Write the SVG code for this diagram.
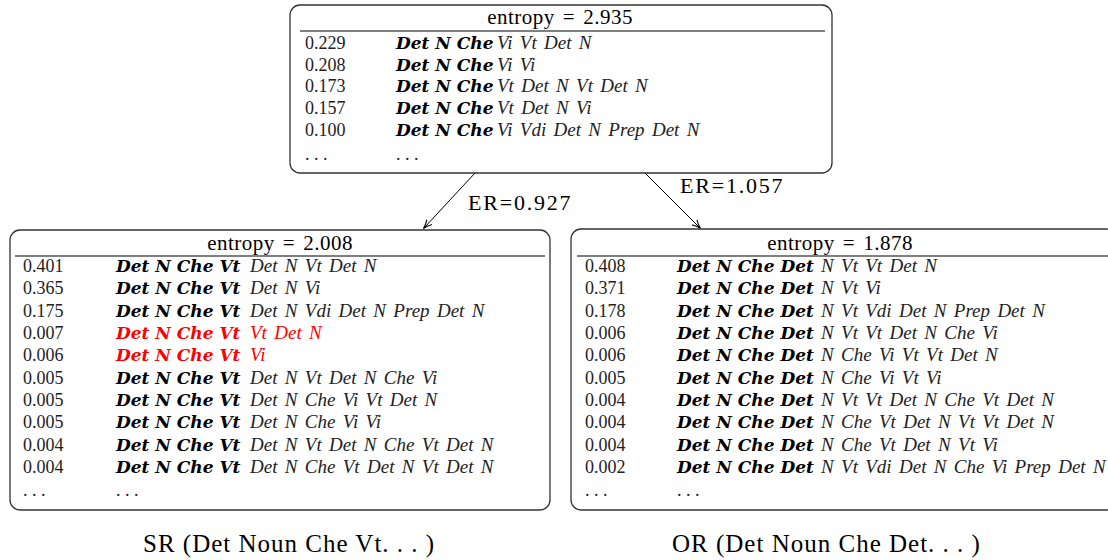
<svg xmlns="http://www.w3.org/2000/svg" width="1108" height="560" viewBox="0 0 1108 560">
  <style>
    text { font-family: "Liberation Serif", "Times New Roman", serif; fill: #000; }
    .box { fill: #fff; stroke: #333; stroke-width: 1.3; }
    .rule { stroke: #555; stroke-width: 1.5; }
    .hdr { font-size: 21px; text-anchor: middle; letter-spacing: 0.5px; }
    .num { font-size: 18px; fill: #222; }
    .b { font-family: "DejaVu Serif", "Liberation Serif", serif; font-weight: bold; font-style: italic; font-size: 17px; }
    .i { font-style: italic; font-size: 19px; word-spacing: 2.6px; fill: #222; }
    .red, .red tspan { fill: #ff0000; }
    .edge { stroke: #000; stroke-width: 1; fill: none; }
    .lbl { font-size: 22px; letter-spacing: 1.8px; }
    .cap { font-size: 25px; letter-spacing: 1px; }
  </style>
  <defs>
    <marker id="arrow" viewBox="0 0 10 10" refX="9" refY="5" markerWidth="9" markerHeight="9" markerUnits="userSpaceOnUse" orient="auto">
      <path d="M0,1 Q5,4 10,5 Q5,6 0,9" fill="none" stroke="#000" stroke-width="1.2"/>
    </marker>
  </defs>

  <!-- connectors -->
  <g id="connectors">
    <line class="edge" x1="475" y1="173" x2="424" y2="228" marker-end="url(#arrow)"/>
    <line class="edge" x1="645" y1="173" x2="700" y2="228" marker-end="url(#arrow)"/>
    <text class="lbl" x="468" y="210">ER=0.927</text>
    <text class="lbl" x="680" y="193">ER=1.057</text>
  </g>

  <!-- root distribution -->
  <g id="root">
    <rect class="box" x="290" y="5" width="542" height="168" rx="10"/>
    <text class="hdr" x="560" y="24">entropy<tspan dx="8">=</tspan><tspan dx="8">2.935</tspan></text>
    <line class="rule" x1="300" y1="31" x2="825" y2="31"/>
    <text y="49"><tspan class="num" x="305">0.229</tspan><tspan class="b" x="396">Det N Che</tspan><tspan class="i" x="497">Vi Vt Det N</tspan></text>
    <text y="71"><tspan class="num" x="305">0.208</tspan><tspan class="b" x="396">Det N Che</tspan><tspan class="i" x="497">Vi Vi</tspan></text>
    <text y="92"><tspan class="num" x="305">0.173</tspan><tspan class="b" x="396">Det N Che</tspan><tspan class="i" x="497">Vt Det N Vt Det N</tspan></text>
    <text y="114"><tspan class="num" x="305">0.157</tspan><tspan class="b" x="396">Det N Che</tspan><tspan class="i" x="497">Vt Det N Vi</tspan></text>
    <text y="136"><tspan class="num" x="305">0.100</tspan><tspan class="b" x="396">Det N Che</tspan><tspan class="i" x="497">Vi Vdi Det N Prep Det N</tspan></text>
    <text y="160"><tspan class="num" x="305">. . .</tspan><tspan class="num" x="396">. . .</tspan></text>
  </g>

  <!-- subject relative branch -->
  <g id="sr">
    <rect class="box" x="10" y="230" width="540" height="280" rx="10"/>
    <text class="hdr" x="280" y="250">entropy<tspan dx="8">=</tspan><tspan dx="8">2.008</tspan></text>
    <line class="rule" x1="15" y1="256" x2="545" y2="256"/>
    <text y="272"><tspan class="num" x="23">0.401</tspan><tspan class="b" x="116">Det N Che Vt</tspan><tspan class="i" x="250">Det N Vt Det N</tspan></text>
    <text y="294"><tspan class="num" x="23">0.365</tspan><tspan class="b" x="116">Det N Che Vt</tspan><tspan class="i" x="250">Det N Vi</tspan></text>
    <text y="317"><tspan class="num" x="23">0.175</tspan><tspan class="b" x="116">Det N Che Vt</tspan><tspan class="i" x="250">Det N Vdi Det N Prep Det N</tspan></text>
    <text y="339"><tspan class="num" x="23">0.007</tspan><tspan class="b red" x="116">Det N Che Vt</tspan><tspan class="i red" x="250">Vt Det N</tspan></text>
    <text y="361"><tspan class="num" x="23">0.006</tspan><tspan class="b red" x="116">Det N Che Vt</tspan><tspan class="i red" x="250">Vi</tspan></text>
    <text y="384"><tspan class="num" x="23">0.005</tspan><tspan class="b" x="116">Det N Che Vt</tspan><tspan class="i" x="250">Det N Vt Det N Che Vi</tspan></text>
    <text y="406"><tspan class="num" x="23">0.005</tspan><tspan class="b" x="116">Det N Che Vt</tspan><tspan class="i" x="250">Det N Che Vi Vt Det N</tspan></text>
    <text y="428"><tspan class="num" x="23">0.005</tspan><tspan class="b" x="116">Det N Che Vt</tspan><tspan class="i" x="250">Det N Che Vi Vi</tspan></text>
    <text y="451"><tspan class="num" x="23">0.004</tspan><tspan class="b" x="116">Det N Che Vt</tspan><tspan class="i" x="250">Det N Vt Det N Che Vt Det N</tspan></text>
    <text y="473"><tspan class="num" x="23">0.004</tspan><tspan class="b" x="116">Det N Che Vt</tspan><tspan class="i" x="250">Det N Che Vt Det N Vt Det N</tspan></text>
    <text y="496"><tspan class="num" x="23">. . .</tspan><tspan class="num" x="116">. . .</tspan></text>
  </g>

  <!-- object relative branch -->
  <g id="or">
    <rect class="box" x="571" y="229" width="545" height="281" rx="10"/>
    <text class="hdr" x="840" y="250">entropy<tspan dx="8">=</tspan><tspan dx="8">1.878</tspan></text>
    <line class="rule" x1="577" y1="256" x2="1108" y2="256"/>
    <text y="272"><tspan class="num" x="585">0.408</tspan><tspan class="b" x="677">Det N Che Det</tspan><tspan class="i" x="821">N Vt Vt Det N</tspan></text>
    <text y="294"><tspan class="num" x="585">0.371</tspan><tspan class="b" x="677">Det N Che Det</tspan><tspan class="i" x="821">N Vt Vi</tspan></text>
    <text y="317"><tspan class="num" x="585">0.178</tspan><tspan class="b" x="677">Det N Che Det</tspan><tspan class="i" x="821">N Vt Vdi Det N Prep Det N</tspan></text>
    <text y="339"><tspan class="num" x="585">0.006</tspan><tspan class="b" x="677">Det N Che Det</tspan><tspan class="i" x="821">N Vt Vt Det N Che Vi</tspan></text>
    <text y="361"><tspan class="num" x="585">0.006</tspan><tspan class="b" x="677">Det N Che Det</tspan><tspan class="i" x="821">N Che Vi Vt Vt Det N</tspan></text>
    <text y="384"><tspan class="num" x="585">0.005</tspan><tspan class="b" x="677">Det N Che Det</tspan><tspan class="i" x="821">N Che Vi Vt Vi</tspan></text>
    <text y="406"><tspan class="num" x="585">0.004</tspan><tspan class="b" x="677">Det N Che Det</tspan><tspan class="i" x="821">N Vt Vt Det N Che Vt Det N</tspan></text>
    <text y="428"><tspan class="num" x="585">0.004</tspan><tspan class="b" x="677">Det N Che Det</tspan><tspan class="i" x="821">N Che Vt Det N Vt Vt Det N</tspan></text>
    <text y="451"><tspan class="num" x="585">0.004</tspan><tspan class="b" x="677">Det N Che Det</tspan><tspan class="i" x="821">N Che Vt Det N Vt Vi</tspan></text>
    <text y="473"><tspan class="num" x="585">0.002</tspan><tspan class="b" x="677">Det N Che Det</tspan><tspan class="i" x="821">N Vt Vdi Det N Che Vi Prep Det N</tspan></text>
    <text y="496"><tspan class="num" x="585">. . .</tspan><tspan class="num" x="677">. . .</tspan></text>
  </g>

  <!-- captions -->
  <text class="cap" x="143" y="552">SR (Det Noun Che Vt. . . )</text>
  <text class="cap" x="672" y="552">OR (Det Noun Che Det. . . )</text>
</svg>
